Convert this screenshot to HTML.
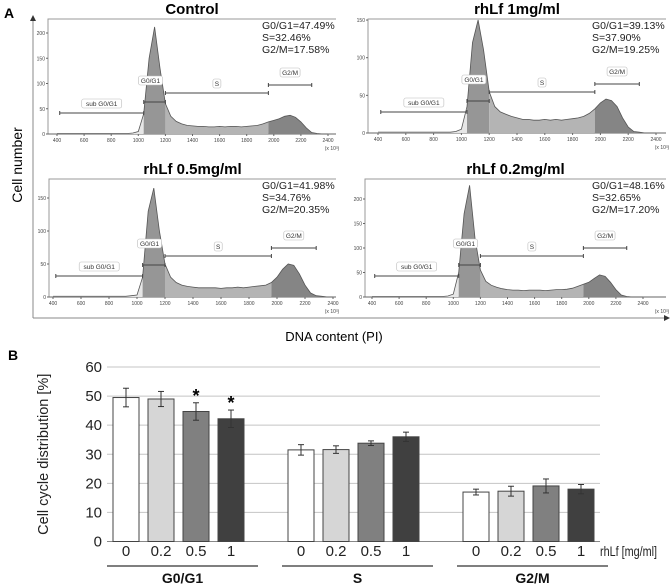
<!DOCTYPE html>
<html><head><meta charset="utf-8">
<style>
body{margin:0;background:#fff;font-family:"Liberation Sans",sans-serif;}
svg{display:block}
</style></head>
<body>
<svg id="fig" width="672" height="587" viewBox="0 0 672 587" xmlns="http://www.w3.org/2000/svg" font-family="Liberation Sans, sans-serif">
<text x="4" y="18" font-size="14" font-weight="bold">A</text>
<line x1="33" y1="20" x2="33" y2="318" stroke="#888"/>
<polygon points="30,21 36,21 33,15" fill="#333"/>
<line x1="33" y1="318" x2="664" y2="318" stroke="#888"/>
<polygon points="664,315 670,318 664,321" fill="#333"/>
<text transform="translate(22,165) rotate(-90)" text-anchor="middle" font-size="14">Cell number</text>
<text x="334" y="341" text-anchor="middle" font-size="13">DNA content (PI)</text>
<g id="hists"></g>
<text x="8" y="360" font-size="14" font-weight="bold">B</text>
<g id="bars"></g>
</svg>
<script>
const NS="http://www.w3.org/2000/svg";
function mk(tag,attrs,parent){const e=document.createElementNS(NS,tag);for(const k in attrs)e.setAttribute(k,attrs[k]);parent.appendChild(e);return e;}
// ---------- Panel A histogram data (counts per 40-unit bin, 400..2400) ----------
const binStart=400, binStep=40;
const countsControl=[1,1,1,1,1,1,1,1,1,1,1,1,1,1,2,5,40,150,212,130,60,35,25,20,17,16,15,15,14,14,15,14,15,15,14,15,16,17,20,24,27,30,35,37,33,24,12,3,1,0,0];
const counts1mg=[1,1,1,1,1,1,1,1,1,1,1,1,1,1,2,5,35,120,150,110,55,35,28,25,22,20,18,18,17,17,18,17,18,17,18,19,20,22,26,32,40,45,43,35,20,8,2,1,0,0,0];
const counts05mg=[1,1,1,1,1,1,1,1,1,1,1,1,1,1,2,3,30,130,165,100,50,30,22,18,16,15,14,14,14,14,13,14,14,15,14,15,16,17,18,22,30,42,50,48,35,18,6,2,1,0,0];
const counts02mg=[1,1,1,1,1,1,1,1,1,1,1,1,1,1,2,6,50,170,228,120,55,32,24,20,17,15,14,14,13,14,14,14,13,14,15,15,16,18,22,26,30,38,45,42,30,15,4,1,0,0,0];
const xTicks=[400,600,800,1000,1200,1400,1600,1800,2000,2200,2400];
const panels=[
 {name:"control",title:"Control",counts:countsControl,yTicks:[0,50,100,150,200],stats:["G0/G1=47.49%","S=32.46%","G2/M=17.58%"],box:[48,19,336,134],x0:57,x1:328,ppu:0.505},
 {name:"1mg",title:"rhLf  1mg/ml",counts:counts1mg,yTicks:[0,50,100,150],stats:["G0/G1=39.13%","S=37.90%","G2/M=19.25%"],box:[368,19,666,133],x0:378,x1:656,ppu:0.753},
 {name:"05mg",title:"rhLf  0.5mg/ml",counts:counts05mg,yTicks:[0,50,100,150],stats:["G0/G1=41.98%","S=34.76%","G2/M=20.35%"],box:[49,179,336,297],x0:53,x1:333,ppu:0.66},
 {name:"02mg",title:"rhLf  0.2mg/ml",counts:counts02mg,yTicks:[0,50,100,150,200],stats:["G0/G1=48.16%","S=32.65%","G2/M=17.20%"],box:[365,179,666,297],x0:372,x1:643,ppu:0.49}
];
const H=document.getElementById('hists');
panels.forEach(p=>{
 const g=mk('g',{},H);
 
 
 const [L,T,R,B]=p.box;
 const sx=v=>p.x0+(v-400)*(p.x1-p.x0)/2000;
 const sy=c=>B-c*p.ppu;
 const t=mk('text',{x:(L+R)/2,y:T-5,'text-anchor':'middle','font-size':15,'font-weight':'bold'},g);t.textContent=p.title;
 
 
 mk('path',{d:`M${L},${B} L${L},${T} L${R},${T}`,fill:'none',stroke:'#999'},g);
 mk('line',{x1:L,y1:B,x2:R,y2:B,stroke:'#666'},g);
 const regions=[[400,1040,'#e6e6e6'],[1040,1200,'#969696'],[1200,1960,'#b4b4b4'],[1960,2400,'#858585']];
 regions.forEach(rg=>{
  let pts=[];
  p.counts.forEach((c,i)=>{const v=binStart+i*binStep;if(v>=rg[0]-binStep&&v<=rg[1]+binStep){pts.push([Math.min(Math.max(v,rg[0]),rg[1]),c]);}});
  let d=`M${sx(rg[0])},${B} `+pts.map(q=>`L${sx(q[0]).toFixed(1)},${sy(q[1]).toFixed(1)}`).join(' ')+` L${sx(rg[1])},${B} Z`;
  const r=mk('path',{d:d,fill:rg[2]},g);
  
  
 });
 const line=mk('polyline',{points:p.counts.map((c,i)=>sx(binStart+i*binStep).toFixed(1)+','+sy(c).toFixed(1)).join(' '),fill:'none',stroke:'#555','stroke-width':0.8},g);
 
 
 xTicks.forEach(v=>{mk('line',{x1:sx(v),y1:B,x2:sx(v),y2:B+2,stroke:'#666'},g);const tt=mk('text',{x:sx(v),y:B+8,'text-anchor':'middle','font-size':5,fill:'#444'},g);tt.textContent=v;});
 const xl=mk('text',{x:R-4,y:B+16,'font-size':5,'text-anchor':'middle',fill:'#444'},g);xl.textContent='(x 10³)';
 p.yTicks.forEach(v=>{mk('line',{x1:L-2,y1:sy(v),x2:L,y2:sy(v),stroke:'#666'},g);const tt=mk('text',{x:L-3,y:sy(v)+2,'text-anchor':'end','font-size':5,fill:'#444'},g);tt.textContent=v;});
 const gates=[["sub G0/G1",420,1040,21,730,30],["G0/G1",1040,1200,32,1090,53],["S",1200,1960,41,1580,50],["G2/M",1960,2280,49,2120,61]];
 gates.forEach(gt=>{
  const y=B-gt[3];
  mk('line',{x1:sx(gt[1]),y1:y,x2:sx(gt[2]),y2:y,stroke:'#444','stroke-width':1},g);
  mk('line',{x1:sx(gt[1]),y1:y-2,x2:sx(gt[1]),y2:y+2,stroke:'#444'},g);
  mk('line',{x1:sx(gt[2]),y1:y-2,x2:sx(gt[2]),y2:y+2,stroke:'#444'},g);
  const w=gt[0].length*4+4;
  const bx=mk('rect',{x:sx(gt[4])-w/2,y:B-gt[5]-5,width:w,height:9,rx:2,fill:'#fff',stroke:'#bbb','stroke-width':0.6},g);
  
  
  const tt=mk('text',{x:sx(gt[4]),y:B-gt[5]+2,'text-anchor':'middle','font-size':6.5,fill:'#333'},g);tt.textContent=gt[0];
 });
 p.stats.forEach((s,i)=>{const tt=mk('text',{x:R-74,y:T+10+i*12,'font-size':10.5,fill:'#222'},g);tt.textContent=s;
  
  });
});
// ---------- Panel B bar chart ----------
const phases=["G0/G1","S","G2/M"];
const doses=["0","0.2","0.5","1"];
const valuesG0G1=[49.5,49.0,44.7,42.2];
const errG0G1=[3.2,2.6,3.0,3.0];
const valuesS=[31.5,31.6,33.8,36.0];
const errS=[1.8,1.3,0.8,1.6];
const valuesG2M=[17.0,17.3,19.1,18.0];
const errG2M=[1.0,1.7,2.4,1.6];
const yTicksB=[0,10,20,30,40,50,60];
const sigStars=[[0,2],[0,3]];
const series=[valuesG0G1,valuesS,valuesG2M], errs=[errG0G1,errS,errG2M];
const fills=["#ffffff","#d6d6d6","#808080","#404040"];
const BG=document.getElementById('bars');
const y0=541.5, yPer=174.5/60;
const yB=v=>y0-v*yPer;
const groupStart=[113,288,463], barPitch=35, barW=26;
const xB=(gi,bi)=>groupStart[gi]+bi*barPitch;
yTicksB.forEach(v=>{
 const gl=mk('line',{x1:107,y1:yB(v),x2:600,y2:yB(v),stroke:v===0?'#888':'#c4c4c4','stroke-width':1},BG);
 
 
 const t=mk('text',{x:102,y:yB(v)+5,'text-anchor':'end','font-size':15,fill:'#222'},BG);t.textContent=v;
 
 
});
const yt=mk('text',{transform:`translate(48,${yB(30)}) rotate(-90)`,'text-anchor':'middle','font-size':14.5,fill:'#222'},BG);yt.textContent='Cell cycle distribution [%]';


series.forEach((vals,gi)=>{
 vals.forEach((v,bi)=>{
  const x=xB(gi,bi);
  const r=mk('rect',{x:x,y:yB(v),width:barW,height:yB(0)-yB(v),fill:fills[bi],stroke:'#444','stroke-width':1},BG);
  
  
  const e=errs[gi][bi], cx=x+barW/2;
  mk('line',{x1:cx,y1:yB(v+e),x2:cx,y2:yB(v-e),stroke:'#333'},BG);
  mk('line',{x1:cx-3,y1:yB(v+e),x2:cx+3,y2:yB(v+e),stroke:'#333'},BG);
  mk('line',{x1:cx-3,y1:yB(v-e),x2:cx+3,y2:yB(v-e),stroke:'#333'},BG);
  const t=mk('text',{x:cx,y:556,'text-anchor':'middle','font-size':15,fill:'#222'},BG);t.textContent=doses[bi];
  
  
 });
 const gx0=groupStart[gi]-6, gx1=groupStart[gi]+3*barPitch+barW+14;
 mk('line',{x1:gx0,y1:566,x2:gx1,y2:566,stroke:'#333','stroke-width':1.2},BG);
 const gt=mk('text',{x:(gx0+gx1)/2,y:583,'text-anchor':'middle','font-size':14,'font-weight':'bold',fill:'#111'},BG);gt.textContent=phases[gi];
 
 
});
sigStars.forEach(s=>{
 const v=series[s[0]][s[1]]+errs[s[0]][s[1]];
 const t=mk('text',{x:xB(s[0],s[1])+barW/2,y:yB(v)-1,'text-anchor':'middle','font-size':18,'font-weight':'bold'},BG);t.textContent='*';
 
 
});
const rl=mk('text',{x:600,y:556,'font-size':14,fill:'#222',textLength:57,lengthAdjust:'spacingAndGlyphs'},BG);rl.textContent='rhLf [mg/ml]';


</script>
</body></html>
